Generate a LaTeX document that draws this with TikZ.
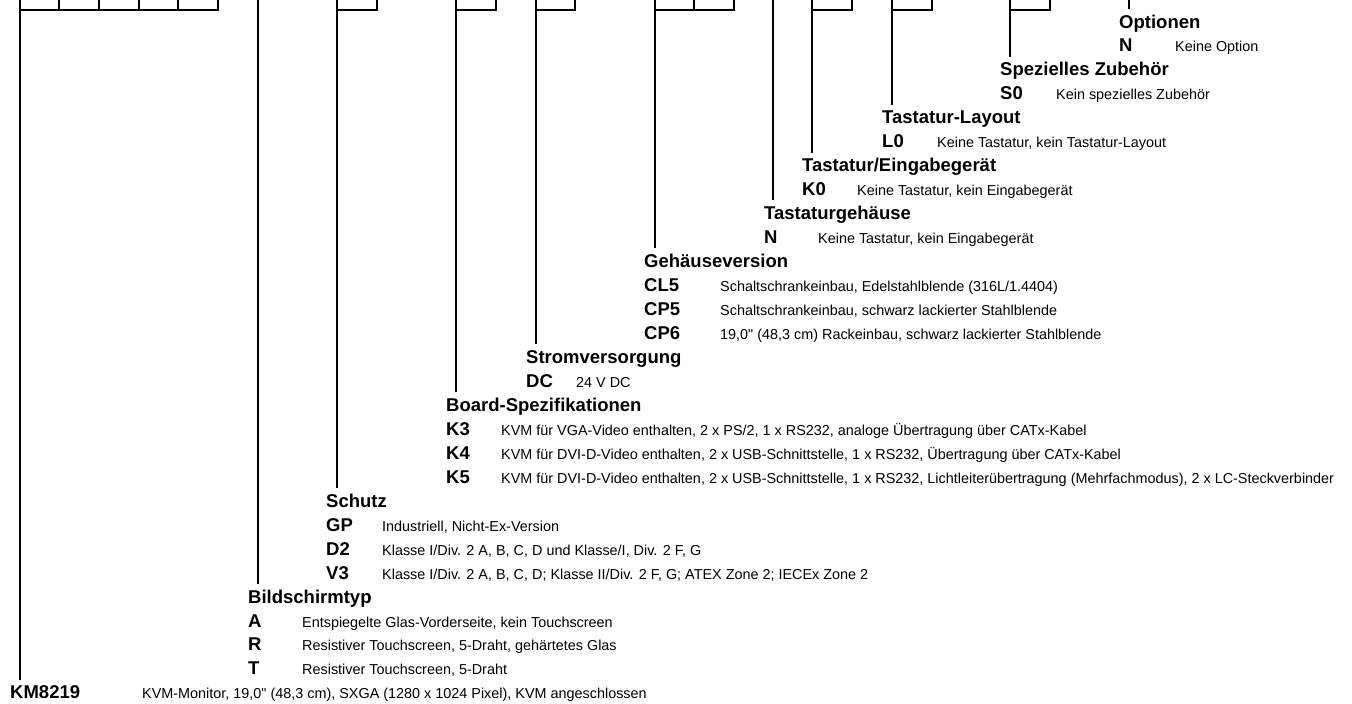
\documentclass[tikz,border=0pt]{standalone}
\usepackage{fontspec}
\setmainfont{Liberation Sans}
\newfontfamily\plainsans{Liberation Sans}
\begin{document}
\begin{tikzpicture}[x=1pt,y=-1pt,
  ln/.style={line width=1.5pt},
  head/.style={font=\plainsans\fontsize{18.5}{20}\selectfont\bfseries,anchor=base west,inner sep=0pt,text height=19pt},
  code/.style={font=\plainsans\fontsize{18.5}{20}\selectfont\bfseries,anchor=base west,inner sep=0pt},
  desc/.style={font=\plainsans\fontsize{14.4}{16}\selectfont,anchor=base west,inner sep=0pt}]
\useasboundingbox (0,0) rectangle (1352,704);

% top boxes
\draw[ln] (20,0) -- (20,10) -- (218,10) -- (218,0);
\foreach \x in {59,99,139,178} \draw[ln] (\x,0) -- (\x,10);
\draw[ln] (337,0) -- (337,10) -- (377,10) -- (377,0);
\draw[ln] (456,0) -- (456,10) -- (496,10) -- (496,0);
\draw[ln] (536,0) -- (536,10) -- (575,10) -- (575,0);
\draw[ln] (655,0) -- (655,10) -- (734,10) -- (734,0);
\draw[ln] (694,0) -- (694,10);
\draw[ln] (812,0) -- (812,10) -- (852,10) -- (852,0);
\draw[ln] (892,0) -- (892,10) -- (932,10) -- (932,0);
\draw[ln] (1010,0) -- (1010,10) -- (1050,10) -- (1050,0);

% start coordinates of the leader lines
\coordinate (tKM) at (20,10);
\coordinate (tBT) at (258,0);
\coordinate (tSC) at (337,10);
\coordinate (tBS) at (456,10);
\coordinate (tSV) at (536,10);
\coordinate (tGV) at (655,10);
\coordinate (tTG) at (773,0);
\coordinate (tTE) at (812,10);
\coordinate (tTL) at (892,10);
\coordinate (tSZ) at (1010,10);
\coordinate (tOP) at (1129,0);

% Optionen
\node[head] (hOP) at (1119,28) {Optionen};
\node[code] (cOP1) at (1119,51.96) {N};
\node[desc] (dOP1) at (1175,51.96) {Keine Option};

% Spezielles Zubehoer
\node[head] (hSZ) at (1000,75.92) {Spezielles Zubehör};
\node[code] (cSZ1) at (1000,99.88) {S0};
\node[desc] (dSZ1) at (1056,99.88) {Kein spezielles Zubehör};

% Tastatur-Layout
\node[head] (hTL) at (882,123.84) {Tastatur-Layout};
\node[code] (cTL1) at (882,147.8) {L0};
\node[desc] (dTL1) at (937,147.8) {Keine Tastatur, kein Tastatur-Layout};

% Tastatur/Eingabegeraet
\node[head] (hTE) at (802,171.76) {Tastatur/Eingabegerät};
\node[code] (cTE1) at (802,195.72) {K0};
\node[desc] (dTE1) at (857,195.72) {Keine Tastatur, kein Eingabegerät};

% Tastaturgehaeuse
\node[head] (hTG) at (764,219.68) {Tastaturgehäuse};
\node[code] (cTG1) at (764,243.64) {N};
\node[desc] (dTG1) at (818,243.64) {Keine Tastatur, kein Eingabegerät};

% Gehaeuseversion
\node[head] (hGV) at (644,267.6) {Gehäuseversion};
\node[code] (cGV1) at (644,291.56) {CL5};
\node[desc] (dGV1) at (720,291.56) {Schaltschrankeinbau, Edelstahlblende (316L/1.4404)};
\node[code] (cGV2) at (644,315.52) {CP5};
\node[desc] (dGV2) at (720,315.52) {Schaltschrankeinbau, schwarz lackierter Stahlblende};
\node[code] (cGV3) at (644,339.48) {CP6};
\node[desc] (dGV3) at (720,339.48) {19,0" (48,3 cm) Rackeinbau, schwarz lackierter Stahlblende};

% Stromversorgung
\node[head] (hSV) at (526,363.44) {Stromversorgung};
\node[code] (cSV1) at (526,387.4) {DC};
\node[desc] (dSV1) at (576,387.4) {24 V DC};

% Board-Spezifikationen
\node[head] (hBS) at (446,411.36) {Board-Spezifikationen};
\node[code] (cBS1) at (446,435.32) {K3};
\node[desc] (dBS1) at (501,435.32) {KVM für VGA-Video enthalten, 2 x PS/2, 1 x RS232, analoge Übertragung über CATx-Kabel};
\node[code] (cBS2) at (446,459.28) {K4};
\node[desc] (dBS2) at (501,459.28) {KVM für DVI-D-Video enthalten, 2 x USB-Schnittstelle, 1 x RS232, Übertragung über CATx-Kabel};
\node[code] (cBS3) at (446,483.24) {K5};
\node[desc] (dBS3) at (501,483.24) {KVM für DVI-D-Video enthalten, 2 x USB-Schnittstelle, 1 x RS232, Lichtleiterübertragung (Mehrfachmodus), 2 x LC-Steckverbinder};

% Schutz
\node[head] (hSC) at (326,507.2) {Schutz};
\node[code] (cSC1) at (326,531.16) {GP};
\node[desc] (dSC1) at (382,531.16) {Industriell, Nicht-Ex-Version};
\node[code] (cSC2) at (326,555.12) {D2};
\node[desc] (dSC2) at (382,555.12) {Klasse I/Div. 2 A, B, C, D und Klasse/I, Div. 2 F, G};
\node[code] (cSC3) at (326,579.08) {V3};
\node[desc] (dSC3) at (382,579.08) {Klasse I/Div. 2 A, B, C, D; Klasse II/Div. 2 F, G; ATEX Zone 2; IECEx Zone 2};

% Bildschirmtyp
\node[head] (hBT) at (248,603.04) {Bildschirmtyp};
\node[code] (cBT1) at (248,627) {A};
\node[desc] (dBT1) at (302,627) {Entspiegelte Glas-Vorderseite, kein Touchscreen};
\node[code] (cBT2) at (248,650.96) {R};
\node[desc] (dBT2) at (302,650.96) {Resistiver Touchscreen, 5-Draht, gehärtetes Glas};
\node[code] (cBT3) at (248,674.92) {T};
\node[desc] (dBT3) at (302,674.92) {Resistiver Touchscreen, 5-Draht};

% KM8219
\node[head] (hKM) at (10,698.88) {KM8219};
\node[desc] (dKM1) at (142,698.88) {KVM-Monitor, 19,0" (48,3 cm), SXGA (1280 x 1024 Pixel), KVM angeschlossen};

% leader lines
\foreach \n in {KM,BT,SC,BS,SV,GV,TG,TE,TL,SZ,OP}
  \draw[ln] (t\n) -- (t\n |- h\n.north);
\end{tikzpicture}
\end{document}
